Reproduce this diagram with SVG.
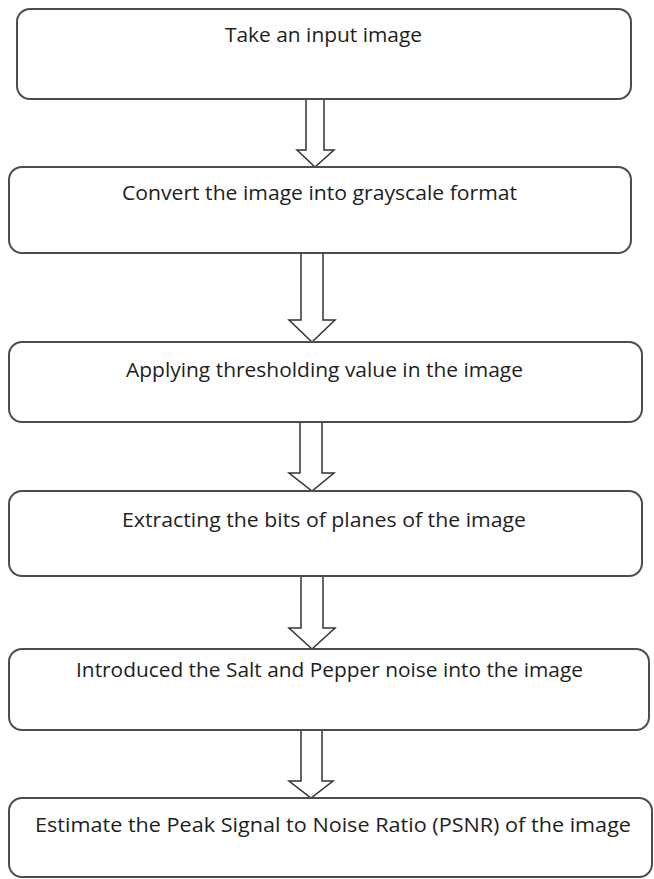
<svg xmlns="http://www.w3.org/2000/svg" width="654" height="879" viewBox="0 0 654 879">
<style>
.box{fill:#ffffff;stroke:#4d4d4d;stroke-width:2}
.lbl{font-family:"Open Sans","Liberation Sans",sans-serif;font-size:20px;fill:#1e1e1e;text-anchor:middle}
.arr{fill:#ffffff;stroke:#333333;stroke-width:1.5;stroke-linejoin:miter}
</style>
<rect width="654" height="879" fill="#ffffff"/>
<g id="connectors">
<polygon class="arr" points="306,99 324,99 324,150 334,150 315,167 297,150 306,150"/>
<polygon class="arr" points="301,253 323,253 323,320 335,320 312,342 289,320 301,320"/>
<polygon class="arr" points="300,422 322,422 322,473 334,473 312,491 289,473 300,473"/>
<polygon class="arr" points="301,576 323,576 323,628 335,628 312,649 289,628 301,628"/>
<polygon class="arr" points="301,730 322,730 322,781 333,781 311,798 289,781 301,781"/>
</g>
<g id="node1">
<rect class="box" x="17" y="9" width="614" height="90" rx="13"/>
<text class="lbl" x="323.5" y="42" textLength="197" lengthAdjust="spacingAndGlyphs">Take an input image</text>
</g>
<g id="node2">
<rect class="box" x="9" y="167" width="622" height="86" rx="13"/>
<text class="lbl" x="319.5" y="200" textLength="395" lengthAdjust="spacingAndGlyphs">Convert the image into grayscale format</text>
</g>
<g id="node3">
<rect class="box" x="9" y="342" width="633" height="80" rx="13"/>
<text class="lbl" x="324.5" y="377" textLength="397" lengthAdjust="spacingAndGlyphs">Applying thresholding value in the image</text>
</g>
<g id="node4">
<rect class="box" x="9" y="491" width="633" height="85" rx="13"/>
<text class="lbl" x="324" y="527" textLength="404" lengthAdjust="spacingAndGlyphs">Extracting the bits of planes of the image</text>
</g>
<g id="node5">
<rect class="box" x="9" y="649" width="640" height="81" rx="13"/>
<text class="lbl" x="329.5" y="677" textLength="507" lengthAdjust="spacingAndGlyphs">Introduced the Salt and Pepper noise into the image</text>
</g>
<g id="node6">
<rect class="box" x="9" y="798" width="643" height="79" rx="13"/>
<text class="lbl" x="333" y="832" textLength="596" lengthAdjust="spacingAndGlyphs">Estimate the Peak Signal to Noise Ratio (PSNR) of the image</text>
</g>
</svg>
